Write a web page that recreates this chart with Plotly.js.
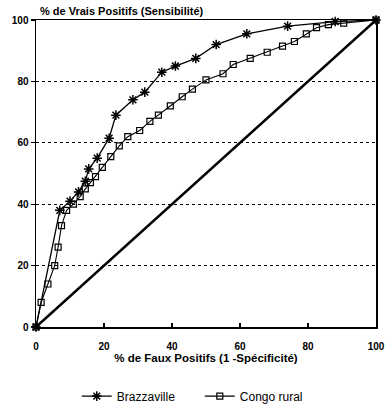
<!DOCTYPE html>
<html>
<head>
<meta charset="utf-8">
<script src="https://cdn.plot.ly/plotly-3.0.1.min.js"></script>
<style>html,body{margin:0;padding:0;background:#fff;}#chart{width:385px;height:420px;}</style>
</head>
<body>
<div id="chart"></div>
<script>
const brazzavilleX = [0, 7, 10, 12.5, 14.5, 15.5, 18, 21.5, 23.5, 28.5, 32, 37, 41, 47, 53, 62, 74, 88, 100];
const brazzavilleY = [0, 38, 41, 44, 47.5, 51.5, 55, 61.5, 69, 74, 76.5, 83, 85, 87.5, 92, 95.5, 98, 99.5, 100];
const congoX = [0, 1.5, 3.5, 5.5, 6.5, 7.5, 9, 11, 13, 14.5, 16, 17.5, 19.5, 22, 24.5, 27, 30.5, 33.5, 36, 39.5, 43, 46, 50, 55, 58, 63, 68, 72.5, 76, 79.5, 82.5, 86, 90.5, 100];
const congoY = [0, 8, 14, 20, 26, 33, 38, 40, 42.5, 45, 47, 49, 52, 55.5, 59, 62, 64, 67, 69, 72, 75, 77.5, 80.5, 82.5, 85.5, 87.5, 89.5, 91.5, 93, 95.5, 97.5, 98.5, 99, 100];
const diagX = [0, 100];
const diagY = [0, 100];
const tickVals = [0, 20, 40, 60, 80, 100];
const tickText = ['0', '20', '40', '60', '80', '100'];
const yTitle = '% de Vrais Positifs (Sensibilité)';
const xTitle = '% de Faux Positifs (1 -Spécificité)';
const names = ['Brazzaville', 'Congo rural'];

const font = 'Liberation Sans, Arial, sans-serif';
const traces = [
  {x: brazzavilleX, y: brazzavilleY, name: names[0], mode: 'lines+markers', cliponaxis: false,
   line: {color: '#000', width: 1.3},
   marker: {symbol: 'asterisk-open', size: 8, color: '#000', line: {color: '#000', width: 1.5}}},
  {x: congoX, y: congoY, name: names[1], mode: 'lines+markers', cliponaxis: false,
   line: {color: '#000', width: 1.1},
   marker: {symbol: 'square-open', size: 6, color: '#000', line: {color: '#000', width: 1.2}}},
  {x: diagX, y: diagY, mode: 'lines', showlegend: false, hoverinfo: 'skip',
   line: {color: '#000', width: 2.5}}
];
const axisBase = {
  range: [0, 100], tickvals: tickVals, ticktext: tickText, zeroline: false,
  showline: true, linecolor: '#000', linewidth: 1.5, mirror: true,
  ticklen: 4, tickcolor: '#000', tickwidth: 1.2,
  tickfont: {family: font, size: 10, color: '#000', weight: 'bold'}
};
const layout = {
  width: 385, height: 420,
  margin: {l: 36, r: 9, t: 20, b: 91},
  paper_bgcolor: '#fff', plot_bgcolor: '#fff',
  showlegend: true,
  xaxis: Object.assign({}, axisBase, {ticks: 'inside', showgrid: false, ticklabelstandoff: 9,
    title: {text: xTitle, font: {family: font, size: 11.5, color: '#000', weight: 'bold'}, standoff: 3}}),
  yaxis: Object.assign({}, axisBase, {ticks: 'outside', showgrid: true, gridcolor: '#000', griddash: 'dot', gridwidth: 1.3}),
  legend: {orientation: 'h', x: 0.12, xanchor: 'left', y: -0.225, yanchor: 'middle',
    font: {family: font, size: 12, color: '#000'}, itemwidth: 30, tracegroupgap: 0,
    entrywidth: 78, entrywidthmode: 'pixels'},
  annotations: [{text: yTitle, xref: 'paper', yref: 'paper', x: 0.005, y: 1, xanchor: 'left', yanchor: 'bottom',
    yshift: 1, showarrow: false, font: {family: font, size: 11, color: '#000', weight: 'bold'}}]
};
Plotly.newPlot('chart', traces, layout, {displayModeBar: false, staticPlot: true});
</script>
</body>
</html>
